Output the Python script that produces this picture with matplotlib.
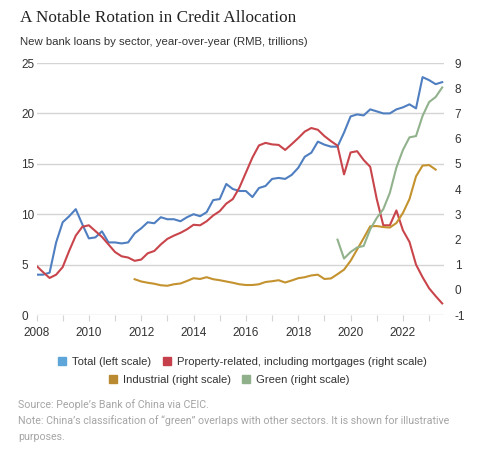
import numpy as np
import matplotlib.pyplot as plt

# quarterly readings, 2008Q1 .. 2023Q3
start_year = 2008.0
total = [4.0, 4.0, 4.2, 7.2, 9.2, 9.8, 10.5, 9.0, 7.6, 7.7, 8.3, 7.2, 7.2, 7.1, 7.2, 8.1,
         8.6, 9.2, 9.1, 9.7, 9.5, 9.5, 9.3, 9.7, 10.0, 9.8, 10.2, 11.4, 11.5, 13.0, 12.5, 12.3,
         12.3, 11.7, 12.6, 12.8, 13.5, 13.6, 13.5, 13.9, 14.6, 15.7, 16.1, 17.2, 16.9, 16.7, 16.7, 18.1,
         19.7, 19.9, 19.8, 20.4, 20.2, 20.0, 20.0, 20.4, 20.6, 20.9, 20.5, 23.6, 23.3, 22.9, 23.1]
property_rel = [0.95, 0.7, 0.47, 0.6, 0.9, 1.55, 2.15, 2.5, 2.56, 2.33, 2.1, 1.8, 1.5, 1.33, 1.28, 1.15,
                1.2, 1.45, 1.54, 1.8, 2.02, 2.15, 2.26, 2.4, 2.58, 2.56, 2.72, 2.95, 3.12, 3.42, 3.6, 4.05,
                4.65, 5.25, 5.73, 5.83, 5.77, 5.75, 5.55, 5.78, 6.02, 6.28, 6.42, 6.35, 6.1, 5.9, 5.72, 4.58,
                5.45, 5.5, 5.15, 4.88, 3.6, 2.56, 2.56, 3.15, 2.36, 1.9, 1.0, 0.5, 0.06, -0.25, -0.54]
industrial_start = 2011.75
industrial = [0.42, 0.33, 0.28, 0.24, 0.18, 0.16, 0.22, 0.25, 0.35, 0.46, 0.43, 0.5, 0.42, 0.38, 0.33, 0.28,
              0.22, 0.19, 0.19, 0.22, 0.31, 0.34, 0.38, 0.29, 0.37, 0.46, 0.5, 0.57, 0.6, 0.43, 0.45, 0.62,
              0.8, 1.15, 1.6, 2.05, 2.52, 2.53, 2.49, 2.47, 2.65, 3.05, 3.6, 4.5, 4.93, 4.95, 4.77]
green_start = 2019.5
green = [1.99, 1.24, 1.5, 1.68, 1.74, 2.4, 2.85, 3.2, 3.85, 4.85, 5.55, 6.05, 6.1, 6.9, 7.45, 7.65, 8.03]

year_ticks = list(range(2008, 2024))
year_labels = [str(y) if y % 2 == 0 else '' for y in year_ticks]
left_ticks = [0, 5, 10, 15, 20, 25]
right_ticks = list(range(-1, 10))

c_total = '#4f7fc0'
c_prop = '#c9454c'
c_ind = '#c4922e'
c_green = '#91b28c'
grid_c = '#d4d4d4'
txt_c = '#333333'

plt.rcParams['font.family'] = ['Liberation Sans', 'DejaVu Sans']
plt.rcParams['axes.unicode_minus'] = False

fig = plt.figure(figsize=(4.82, 4.58), dpi=100)
ax = fig.add_axes([36.5 / 482, 1 - 315 / 458, (443.5 - 36.5) / 482, (315 - 63) / 458])
ax2 = ax.twinx()

t_all = start_year + 0.25 * np.arange(len(total))
t_ind = industrial_start + 0.25 * np.arange(len(industrial))
t_green = green_start + 0.25 * np.arange(len(green))

ax.plot(t_all, total, color=c_total, lw=1.5, solid_joinstyle='round')
ax2.plot(t_all, property_rel, color=c_prop, lw=1.5, solid_joinstyle='round')
ax2.plot(t_ind, industrial, color=c_ind, lw=1.5, solid_joinstyle='round')
ax2.plot(t_green, green, color=c_green, lw=1.5, solid_joinstyle='round')

ax.set_xlim(2008, 2023.55)
ax.set_ylim(0, 25)
ax2.set_ylim(-1, 9)

ax.set_yticks(left_ticks)
ax2.set_yticks(right_ticks)
ax.set_xticks(year_ticks)
ax.set_xticklabels(year_labels)
ax.grid(axis='y', color=grid_c, lw=1)
ax.set_axisbelow(True)

for a in (ax, ax2):
    for s in a.spines.values():
        s.set_visible(False)
ax.tick_params(axis='y', length=0, pad=11, labelsize=8.5, labelcolor=txt_c)
for lab in ax.get_yticklabels():
    lab.set_ha('left')
ax2.tick_params(axis='y', length=0, pad=8, labelsize=8.5, labelcolor=txt_c)
ax.tick_params(axis='x', length=4, width=0.8, color=grid_c, pad=5, labelsize=8.5, labelcolor=txt_c)

title = fig.text(20 / 482, 1 - 18 / 458, 'A Notable Rotation in Credit Allocation',
                 family=['Liberation Serif', 'DejaVu Serif'], fontsize=12.5, color='#222222', va='center')
subtitle = fig.text(20 / 482, 1 - 42 / 458, 'New bank loans by sector, year-over-year (RMB, trillions)',
                    fontsize=8.2, color=txt_c, va='center')

sq = dict(marker='s', linestyle='none', markersize=5.5)
row1 = [plt.Line2D([], [], color='#5ea5da', **sq), plt.Line2D([], [], color='#c5404a', **sq)]
row2 = [plt.Line2D([], [], color='#ba8a30', **sq), plt.Line2D([], [], color='#90b08b', **sq)]
fig.legend(row1, ['Total (left scale)', 'Property-related, including mortgages (right scale)'],
           loc='center', bbox_to_anchor=(242 / 482, 1 - 362 / 458), ncol=2, frameon=False,
           fontsize=8.1, handlelength=0.8, handletextpad=0.5, columnspacing=1.0,
           labelcolor=txt_c)
fig.legend(row2, ['Industrial (right scale)', 'Green (right scale)'],
           loc='center', bbox_to_anchor=(229 / 482, 1 - 380 / 458), ncol=2, frameon=False,
           fontsize=8.1, handlelength=0.8, handletextpad=0.5, columnspacing=1.0,
           labelcolor=txt_c)

notes = ['Source: People\u2019s Bank of China via CEIC.',
         'Note: China\u2019s classification of \u201cgreen\u201d overlaps with other sectors. It is shown for illustrative',
         'purposes.']
note_texts = []
for i, line in enumerate(notes):
    note_texts.append(fig.text(18 / 482, 1 - (405 + 16 * i) / 458, line, family=['Roboto', 'DejaVu Sans'],
                               fontsize=8.0, color='#a5a5a5', va='center'))

# fit a few text widths to the reference widths (pixels)
renderer = fig.canvas.get_renderer()
for txt, target in [(title, 276), (subtitle, 288), (note_texts[1], 433)]:
    w = txt.get_window_extent(renderer).width
    scale = target / w
    if txt in note_texts:
        for nt in note_texts:
            nt.set_fontsize(nt.get_fontsize() * scale)
    else:
        txt.set_fontsize(txt.get_fontsize() * scale)

fig.savefig('out.png', dpi=100)
